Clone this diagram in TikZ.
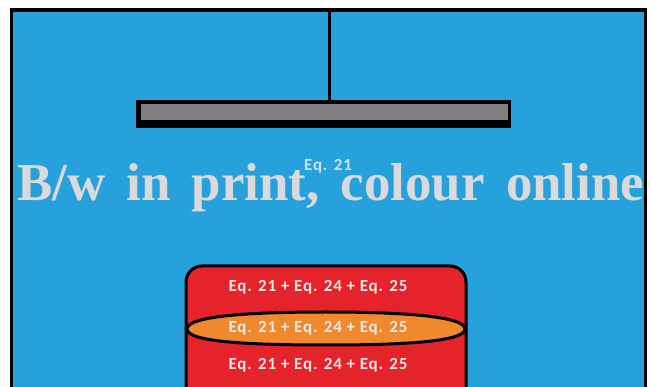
\documentclass[tikz,border=0pt]{standalone}
\usepackage{fontspec}
\setmainfont{Liberation Serif}
\newfontfamily\stampfont[WordSpace=1.6]{Liberation Serif}
\newfontfamily\eqfont[LetterSpace=5]{Carlito}
\usepackage{graphicx}
\usetikzlibrary{calc}

\definecolor{skyblue}{HTML}{27A1DC}
\definecolor{layerred}{HTML}{E5232A}
\definecolor{layerorange}{HTML}{F0892E}
\definecolor{bargrey}{HTML}{808080}
\definecolor{eqwhite}{HTML}{F4E9E9}
\definecolor{eqpale}{HTML}{C9E1F1}
\definecolor{stampgrey}{HTML}{DADADA}

\begin{document}
\begin{tikzpicture}[x=1pt, y=-1pt]
    \tikzset{eq/.style={text=eqwhite, anchor=base, font=\eqfont\bfseries\fontsize{17}{19}\selectfont, inner sep=0pt}}
    \useasboundingbox (0,0) rectangle (651,387);
    \clip (0,0) rectangle (651,387);

    % background and frame
    \fill[skyblue] (11,10) rectangle (646,395);
    \draw[line width=3.5pt] (11.5,395) -- (11.5,10) -- (645.5,10) -- (645.5,395);

    % hanging bar
    \node[fill=black, minimum width=375pt, minimum height=28pt, inner sep=0pt] (bar) at (323.5,114) {};
    \node[fill=bargrey, minimum width=367pt, minimum height=16pt, inner sep=0pt] (barface) at (324,112) {};
    \coordinate (hook) at (329,10);
    \draw[line width=3pt] (hook) -- (hook |- bar.north);

    % layered box
    \draw[fill=layerred, line width=3pt, rounded corners=16pt] (186,266) rectangle (466,410);
    \draw[fill=layerorange, line width=3pt] (187,329) .. controls (187,316) and (250,312) .. (326,312)
        .. controls (400,312) and (465,316) .. (465,329)
        .. controls (465,342) and (400,345) .. (326,345)
        .. controls (250,345) and (187,342) .. (187,329) -- cycle;
    \node[eq] (top) at (318,292) {Eq. 21 + Eq. 24 + Eq. 25};
    \node[eq] (mid) at (318,333) {Eq. 21 + Eq. 24 + Eq. 25};
    \node[eq] (low) at (318,370) {Eq. 21 + Eq. 24 + Eq. 25};

    % labels
    \node[eq, text=eqpale] (eqbar) at (328,171) {Eq. 21};
    \node[anchor=base west, inner sep=0pt, text=stampgrey] (stamp) at (17,201)
        {\resizebox{627pt}{37pt}{\stampfont\bfseries\fontsize{54}{60}\selectfont B/w in print, colour online}};
\end{tikzpicture}
\end{document}
